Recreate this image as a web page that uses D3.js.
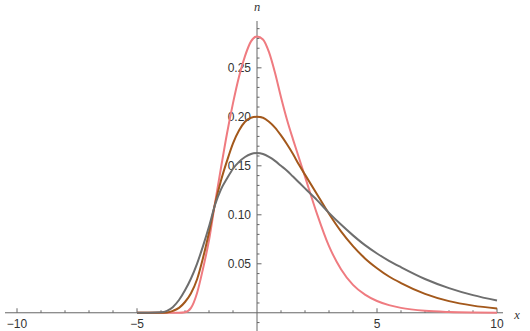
<!DOCTYPE html>
<meta charset="utf-8">
<script src="https://d3js.org/d3.v7.min.js"></script>
<style>
  body { margin: 0; background: #fff; }
  text { font-family: "Liberation Sans", Arial, sans-serif; }
</style>
<div id="chart"></div>
<script>
// x positions the curves were read at
const xs = [-5, -4.5, -4, -3.75, -3.5, -3.25, -3, -2.75, -2.5, -2.25, -2, -1.75, -1.5, -1.25, -1,
  -0.75, -0.5, -0.25, 0, 0.25, 0.5, 0.75, 1, 1.25, 1.5, 1.75, 2, 2.5, 3, 3.5, 4, 4.5, 5, 5.5, 6, 7, 8, 9, 10];

const pink = [0, 0, 0, 0, 0, 0, 0.0005, 0.005, 0.02, 0.045, 0.074, 0.112, 0.148, 0.183, 0.214,
  0.241, 0.262, 0.277, 0.282, 0.279, 0.266, 0.245, 0.22, 0.197, 0.177, 0.158, 0.139, 0.101, 0.068,
  0.0445, 0.0285, 0.0185, 0.012, 0.0078, 0.005, 0.002, 0.0008, 0.0003, 0.0001];
const brown = [0, 0, 0, 0.0004, 0.002, 0.005, 0.011, 0.02, 0.034, 0.056, 0.082, 0.111, 0.135, 0.155, 0.173,
  0.186, 0.195, 0.199, 0.2, 0.199, 0.195, 0.189, 0.181, 0.172, 0.162, 0.151, 0.141, 0.121, 0.101,
  0.083, 0.068, 0.0555, 0.0455, 0.037, 0.0303, 0.0193, 0.0119, 0.0073, 0.0043];
const gray = [0, 0, 0.0005, 0.002, 0.006, 0.013, 0.023, 0.035, 0.05, 0.068, 0.088, 0.11, 0.126, 0.137, 0.147,
  0.154, 0.159, 0.162, 0.163, 0.162, 0.159, 0.155, 0.150, 0.145, 0.139, 0.133, 0.127, 0.115, 0.102,
  0.090, 0.079, 0.069, 0.0605, 0.053, 0.0465, 0.0345, 0.0252, 0.018, 0.0125];

const xMajor = [-10, -5, 5, 10];
const yMajor = [0.05, 0.10, 0.15, 0.20, 0.25];

const width = 530, height = 331;

const svg = d3.select("#chart").append("svg")
  .attr("width", width)
  .attr("height", height);

const x = d3.scaleLinear().domain([-10.5, 10.25]).range([5, 503]);
const y = d3.scaleLinear().domain([-0.0186, 0.2978]).range([331, 21]);

const axisColor = "#666";

// x axis line + ticks (pointing up)
svg.append("line")
  .attr("x1", x(-10.5)).attr("x2", x(10.25))
  .attr("y1", y(0)).attr("y2", y(0))
  .attr("stroke", axisColor).attr("stroke-width", 1);

const xMinor = d3.range(-10, 11).filter(d => d !== 0);
svg.selectAll(".xtick")
  .data(xMinor)
  .join("line")
  .attr("x1", d => x(d)).attr("x2", d => x(d))
  .attr("y1", y(0))
  .attr("y2", d => y(0) - (d % 5 === 0 ? 4.5 : 2.5))
  .attr("stroke", axisColor);

svg.selectAll(".xlab")
  .data(xMajor)
  .join("text")
  .attr("x", d => x(d))
  .attr("y", 328)
  .attr("text-anchor", "middle")
  .attr("font-size", 12)
  .attr("fill", "#333")
  .text(d => d < 0 ? "\u2212" + Math.abs(d) : d);

// y axis line + ticks (pointing right)
svg.append("line")
  .attr("x1", x(0)).attr("x2", x(0))
  .attr("y1", 21).attr("y2", 331)
  .attr("stroke", axisColor).attr("stroke-width", 1);

const yMinor = d3.range(-1, 30).filter(d => d !== 0);
svg.selectAll(".ytick")
  .data(yMinor)
  .join("line")
  .attr("x1", x(0))
  .attr("x2", d => x(0) + (d % 5 === 0 ? 4.5 : 2.5))
  .attr("y1", d => y(d / 100)).attr("y2", d => y(d / 100))
  .attr("stroke", axisColor);

svg.selectAll(".ylab")
  .data(yMajor)
  .join("text")
  .attr("x", x(0) - 6)
  .attr("y", d => y(d))
  .attr("dy", "0.35em")
  .attr("text-anchor", "end")
  .attr("font-size", 12)
  .attr("fill", "#333")
  .text(d => d.toFixed(2));

// axis labels
svg.append("text")
  .attr("x", x(0)).attr("y", 11)
  .attr("text-anchor", "middle")
  .attr("font-size", 12.5)
  .attr("font-style", "italic")
  .style("font-family", "'Liberation Serif', serif")
  .attr("fill", "#333")
  .text("n");

svg.append("text")
  .attr("x", 517).attr("y", 319)
  .attr("text-anchor", "middle")
  .attr("font-size", 12.5)
  .attr("font-style", "italic")
  .style("font-family", "'Liberation Serif', serif")
  .attr("fill", "#333")
  .text("x");

// curves
const line = d3.line()
  .x((d, i) => x(xs[i]))
  .y(d => y(d))
  .curve(d3.curveMonotoneX);

const series = [
  {vals: pink, color: "#ef7b80"},
  {vals: brown, color: "#a3581b"},
  {vals: gray, color: "#6e6e6e"}
];

svg.selectAll(".curve")
  .data(series)
  .join("path")
  .attr("d", d => line(d.vals))
  .attr("fill", "none")
  .attr("stroke", d => d.color)
  .attr("stroke-width", 2);
</script>
